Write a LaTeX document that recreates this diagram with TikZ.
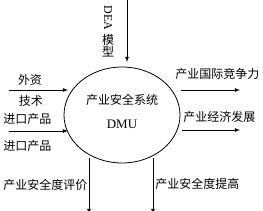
\documentclass[tikz,border=0pt]{standalone}
\usepackage{fontspec}
\setmainfont{Liberation Serif}
\newfontfamily\cjk{Noto Sans CJK SC}
\usetikzlibrary{shapes.geometric}

\begin{document}
\begin{tikzpicture}[x=1pt, y=-1pt, >=latex, line width=0.8pt,
    every node/.style={font=\cjk\fontsize{12}{14}\selectfont, inner sep=0pt}]
    \useasboundingbox (0,0) rectangle (263,211);
    % decision making unit
    \node[ellipse, draw, minimum width=116pt, minimum height=96pt] (dmu) at (122,115) {};
    \node (sys) at (122,100) {产业安全系统};
    \node[font=\rmfamily\fontsize{13}{15}\selectfont] (dmuname) at (122,124) {DMU};
    % model from above
    \coordinate (deatop) at (127,-1);
    \coordinate (deatip) at (127,62);
    \draw[->] (deatop) -- (deatip);
    \node[rotate=-90, font=\rmfamily\fontsize{12}{14}\selectfont] (dea) at (108,18) {DEA};
    \node (mo) at (108,40) {模};
    \node (xing) at (108,52) {型};
    % inputs
    \coordinate (in1) at (9,90);
    \coordinate (in1tip) at (68,90);
    \coordinate (in2) at (9,131);
    \coordinate (in2tip) at (68,131);
    \draw[->] (in1) -- (in1tip);
    \draw[->] (in2) -- (in2tip);
    \node (waizi) at (30,80) {外资};
    \node (jishu) at (31,101) {技术};
    \node[anchor=west] (jinkou1) at (3,119) {进口产品};
    \node[anchor=west] (jinkou2) at (3,146) {进口产品};
    % outputs
    \coordinate (out1) at (181,90);
    \coordinate (out1tip) at (240,90);
    \coordinate (out2) at (182,130);
    \coordinate (out2tip) at (240,130);
    \draw[->] (out1) -- (out1tip);
    \draw[->] (out2) -- (out2tip);
    \node[anchor=west] (jingzheng) at (175,74) {产业国际竞争力};
    \node[anchor=west] (fazhan) at (183,117) {产业经济发展};
    % results below
    \coordinate (down1) at (89,158);
    \coordinate (down1tip) at (89,214);
    \coordinate (down2) at (153,158);
    \coordinate (down2tip) at (153,214);
    \draw[->] (down1) -- (down1tip);
    \draw[->] (down2) -- (down2tip);
    \node[anchor=west] (pingjia) at (3,185) {产业安全度评价};
    \node[anchor=west] (tigao) at (155,184) {产业安全度提高};
\end{tikzpicture}
\end{document}
